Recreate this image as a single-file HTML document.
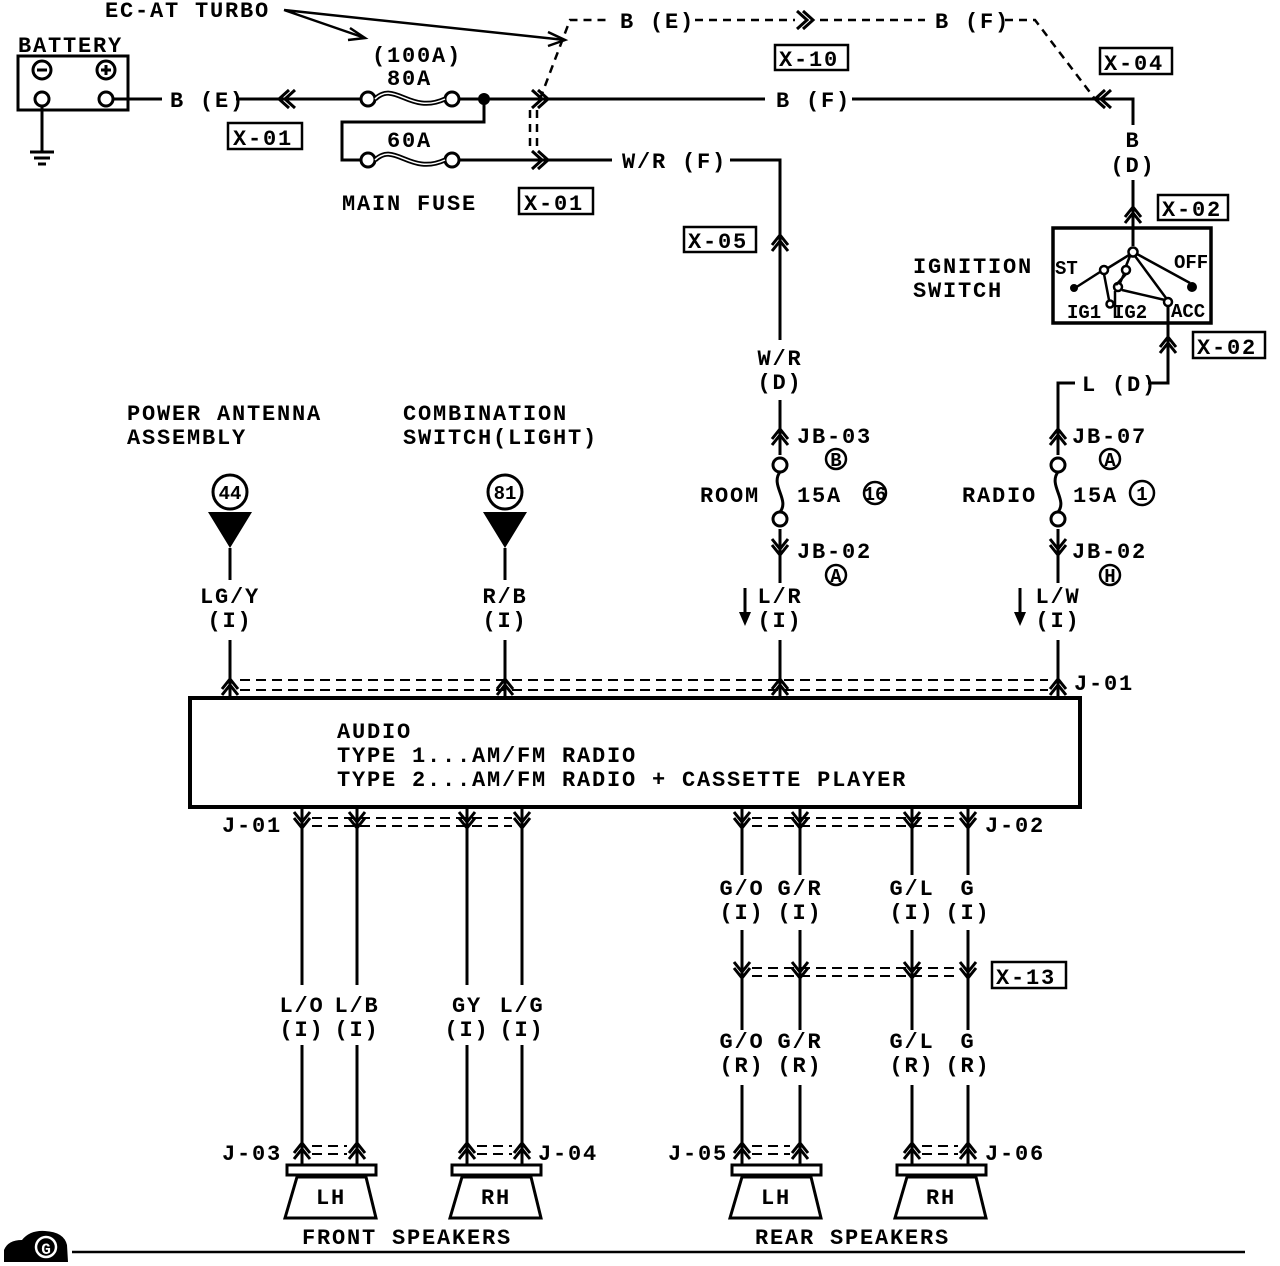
<!DOCTYPE html>
<html><head><meta charset="utf-8"><style>
html,body{margin:0;padding:0;background:#fff}
svg{display:block}
text{font-family:"Liberation Mono",monospace;font-weight:bold;font-size:22px;letter-spacing:1.8px;fill:#000}
.s{font-size:19px;letter-spacing:0}
</style></head><body>
<svg width="1280" height="1266" viewBox="0 0 1280 1266" xmlns="http://www.w3.org/2000/svg">
<defs>
<g id="cu"><path d="M-8,7 L0,-3 L8,7 M-8,13 L0,3 L8,13" fill="none" stroke="#000" stroke-width="3"/></g>
<g id="cd"><path d="M-8,-7 L0,3 L8,-7 M-8,-13 L0,-3 L8,-13" fill="none" stroke="#000" stroke-width="3"/></g>
<g id="cl"><path d="M7,-9 L-3,0 L7,9 M13,-9 L3,0 L13,9" fill="none" stroke="#000" stroke-width="3"/></g>
<g id="cr"><path d="M-7,-9 L3,0 L-7,9 M-13,-9 L-3,0 L-13,9" fill="none" stroke="#000" stroke-width="3"/></g>
</defs>
<g fill="none" stroke="#000" stroke-width="3">
<rect x="18" y="56" width="110" height="54"/>
<circle cx="42" cy="99" r="7"/><circle cx="106" cy="99" r="7"/>
<circle cx="42" cy="70" r="9"/><circle cx="106" cy="70" r="9"/>
<path d="M37,70 H47 M101,70 H111 M106,65 V75"/>
<path d="M42,106 V152 M30,152 H54 M34,158 H50 M38,164 H46"/>
<path d="M113,99 H162 M236,99 H361"/>
<circle cx="368" cy="99" r="7"/><circle cx="452" cy="99" r="7"/>
<path d="M375,99 C395,80 410,115 445,99" stroke-width="5"/>
<path d="M375,99 C395,80 410,115 445,99" stroke="#fff" stroke-width="1.5"/>
<path d="M459,99 H765 M852,99 H1133 V125"/>
<path d="M484,99 V122 H342 V160 H361"/>
<circle cx="368" cy="160" r="7"/><circle cx="452" cy="160" r="7"/>
<path d="M375,160 C395,141 410,176 445,160" stroke-width="5"/>
<path d="M375,160 C395,141 410,176 445,160" stroke="#fff" stroke-width="1.5"/>
<path d="M459,160 H612 M730,160 H780 V340 M780,400 V455 M780,529 V583 M780,640 V698"/>
<path d="M284,10 L365,38 M284,10 L565,40" stroke-width="2.5"/>
<path d="M350,28 L365,38 L348,40 M548,32 L565,40 L548,46" stroke-width="2.5"/>
<g stroke-dasharray="8,6" stroke-width="2.5">
<path d="M540,99 L570,20 H610 M695,20 H795 M820,20 H925 M1005,20 H1035 L1095,99"/>
<path d="M530,110 V150 M537,110 V150"/>
</g>
<rect x="228" y="123" width="74" height="26" stroke-width="2.5"/>
<rect x="519" y="188" width="74" height="26" stroke-width="2.5"/>
<rect x="775" y="45" width="73" height="25" stroke-width="2.5"/>
<rect x="1100" y="48" width="72" height="26" stroke-width="2.5"/>
<rect x="684" y="227" width="72" height="25" stroke-width="2.5"/>
<rect x="1158" y="195" width="70" height="25" stroke-width="2.5"/>
<rect x="1193" y="332" width="72" height="26" stroke-width="2.5"/>
<rect x="992" y="962" width="74" height="26" stroke-width="2.5"/>
<path d="M1133,180 V246"/>
<rect x="1053" y="228" width="158" height="95" stroke-width="3.5"/>
<g stroke-width="2.5">
<circle cx="1133" cy="252" r="4.5"/><circle cx="1104" cy="270" r="4"/><circle cx="1126" cy="270" r="4"/><circle cx="1118" cy="287" r="4"/><circle cx="1110" cy="304" r="3.5"/><circle cx="1168" cy="302" r="4"/>
<path d="M1129,255 L1108,268 M1100,272 L1075,288 M1137,254 L1190,283 M1135,256 L1166,298 M1130,256 L1126,266 M1124,274 L1120,283 M1122,290 L1165,300 M1104,274 L1109,300 M1115,291 L1115,318 M1126,274 L1116,285"/>
</g>
<path d="M1168,306 V383 H1148 M1075,383 H1058 V455 M1058,529 V583 M1058,640 V698"/>
<circle cx="780" cy="465" r="7"/><circle cx="780" cy="519" r="7"/>
<path d="M780,472 C770,485 790,500 780,512"/>
<circle cx="1058" cy="465" r="7"/><circle cx="1058" cy="519" r="7"/>
<path d="M1058,472 C1048,485 1068,500 1058,512"/>
<circle cx="836" cy="459" r="10" stroke-width="2.5"/><circle cx="836" cy="575" r="10" stroke-width="2.5"/>
<circle cx="875" cy="493" r="11" stroke-width="2.5"/><circle cx="1110" cy="459" r="10" stroke-width="2.5"/>
<circle cx="1142" cy="493" r="12" stroke-width="2.5"/><circle cx="1110" cy="575" r="10" stroke-width="2.5"/>
<path d="M745,588 V614 M1020,588 V614"/>
<circle cx="230" cy="492" r="17"/><circle cx="505" cy="492" r="17"/>
<path d="M230,548 V580 M230,640 V698 M505,548 V580 M505,640 V698"/>
<path d="M240,680 H1048 M240,690 H1048" stroke-dasharray="10,6" stroke-width="2"/>
<rect x="190" y="698" width="890" height="109" stroke-width="4"/>
<path d="M302,807 V985 M357,807 V985 M467,807 V985 M522,807 V985 M302,1045 V1165 M357,1045 V1165 M467,1045 V1165 M522,1045 V1165"/>
<path d="M742,807 V875 M800,807 V875 M912,807 V875 M968,807 V875 M742,930 V1030 M800,930 V1030 M912,930 V1030 M968,930 V1030 M742,1085 V1165 M800,1085 V1165 M912,1085 V1165 M968,1085 V1165"/>
<g stroke-dasharray="10,6" stroke-width="2">
<path d="M312,818 H512 M312,826 H512 M752,818 H958 M752,826 H958 M752,968 H958 M752,976 H958"/>
<path d="M312,1146 H347 M312,1154 H347 M477,1146 H512 M477,1154 H512 M752,1146 H790 M752,1154 H790 M922,1146 H958 M922,1154 H958"/>
</g>
<rect x="287" y="1165" width="89" height="10"/>
<path d="M297,1177 H366 L376,1218 H285 Z"/>
<rect x="452" y="1165" width="89" height="10"/>
<path d="M462,1177 H531 L541,1218 H450 Z"/>
<rect x="732" y="1165" width="89" height="10"/>
<path d="M742,1177 H811 L821,1218 H730 Z"/>
<rect x="897" y="1165" width="89" height="10"/>
<path d="M907,1177 H976 L986,1218 H895 Z"/>
<path d="M72,1252 H1245" stroke-width="2.5"/>
</g>
<circle cx="484" cy="99" r="6"/>
<path d="M208,512 H252 L230,548 Z M483,512 H527 L505,548 Z"/>
<path d="M739,612 L751,612 L745,626 Z M1014,612 L1026,612 L1020,626 Z"/>
<path d="M1192,287 m-5,0 a5,5 0 1,0 10,0 a5,5 0 1,0 -10,0 M1074,288 m-4,0 a4,4 0 1,0 8,0 a4,4 0 1,0 -8,0"/>
<path d="M4,1250 Q8,1240 22,1240 Q30,1230 45,1231 Q64,1232 67,1245 L68,1262 H4 Z"/>
<circle cx="46" cy="1247" r="10" fill="none" stroke="#fff" stroke-width="2.5"/>
<use href="#cl" x="282" y="99"/><use href="#cr" x="545" y="99"/><use href="#cr" x="545" y="160"/>
<use href="#cr" x="810" y="20"/><use href="#cl" x="1098" y="99"/>
<use href="#cu" x="1133" y="210"/><use href="#cu" x="1168" y="340"/><use href="#cu" x="780" y="238"/>
<use href="#cu" x="780" y="432"/><use href="#cd" x="780" y="552"/>
<use href="#cu" x="1058" y="432"/><use href="#cd" x="1058" y="552"/>
<use href="#cu" x="230" y="682"/><use href="#cu" x="505" y="682"/><use href="#cu" x="780" y="682"/><use href="#cu" x="1058" y="682"/>
<use href="#cd" x="302" y="825"/><use href="#cd" x="357" y="825"/><use href="#cd" x="467" y="825"/><use href="#cd" x="522" y="825"/>
<use href="#cd" x="742" y="825"/><use href="#cd" x="800" y="825"/><use href="#cd" x="912" y="825"/><use href="#cd" x="968" y="825"/>
<use href="#cd" x="742" y="975"/><use href="#cd" x="800" y="975"/><use href="#cd" x="912" y="975"/><use href="#cd" x="968" y="975"/>
<use href="#cu" x="302" y="1146"/><use href="#cu" x="357" y="1146"/><use href="#cu" x="467" y="1146"/><use href="#cu" x="522" y="1146"/>
<use href="#cu" x="742" y="1146"/><use href="#cu" x="800" y="1146"/><use href="#cu" x="912" y="1146"/><use href="#cu" x="968" y="1146"/>
<text x="105" y="17">EC-AT TURBO</text>
<text x="18" y="52">BATTERY</text>
<text x="170" y="107">B (E)</text>
<text x="372" y="62">(100A)</text>
<text x="387" y="85">80A</text>
<text x="387" y="147">60A</text>
<text x="342" y="210">MAIN FUSE</text>
<text x="233" y="145">X-01</text>
<text x="524" y="210">X-01</text>
<text x="620" y="28">B (E)</text>
<text x="935" y="28">B (F)</text>
<text x="779" y="66">X-10</text>
<text x="1104" y="70">X-04</text>
<text x="776" y="107">B (F)</text>
<text x="622" y="168">W/R (F)</text>
<text x="688" y="248">X-05</text>
<text x="1162" y="216">X-02</text>
<text x="1197" y="354">X-02</text>
<text x="1133" y="147" text-anchor="middle">B</text>
<text x="1133" y="172" text-anchor="middle">(D)</text>
<text x="913" y="273">IGNITION</text>
<text x="913" y="297">SWITCH</text>
<text class="s" x="1055" y="274">ST</text>
<text class="s" x="1174" y="268">OFF</text>
<text class="s" x="1067" y="318">IG1</text>
<text class="s" x="1113" y="318">IG2</text>
<text class="s" x="1171" y="317">ACC</text>
<text x="1082" y="391">L (D)</text>
<text x="780" y="365" text-anchor="middle">W/R</text>
<text x="780" y="389" text-anchor="middle">(D)</text>
<text x="127" y="420">POWER ANTENNA</text>
<text x="127" y="444">ASSEMBLY</text>
<text x="403" y="420">COMBINATION</text>
<text x="403" y="444">SWITCH(LIGHT)</text>
<text class="s" x="230" y="499" text-anchor="middle">44</text>
<text class="s" x="505" y="499" text-anchor="middle">81</text>
<text x="797" y="443">JB-03</text>
<text class="s" x="836" y="466" text-anchor="middle">B</text>
<text x="700" y="502">ROOM</text>
<text x="797" y="502">15A</text>
<text class="s" x="875" y="500" text-anchor="middle">16</text>
<text x="797" y="558">JB-02</text>
<text class="s" x="836" y="582" text-anchor="middle">A</text>
<text x="1072" y="443">JB-07</text>
<text class="s" x="1110" y="466" text-anchor="middle">A</text>
<text x="962" y="502">RADIO</text>
<text x="1073" y="502">15A</text>
<text class="s" x="1142" y="500" text-anchor="middle">1</text>
<text x="1072" y="558">JB-02</text>
<text class="s" x="1110" y="582" text-anchor="middle">H</text>
<text x="230" y="603" text-anchor="middle">LG/Y</text><text x="230" y="627" text-anchor="middle">(I)</text>
<text x="505" y="603" text-anchor="middle">R/B</text><text x="505" y="627" text-anchor="middle">(I)</text>
<text x="780" y="603" text-anchor="middle">L/R</text><text x="780" y="627" text-anchor="middle">(I)</text>
<text x="1058" y="603" text-anchor="middle">L/W</text><text x="1058" y="627" text-anchor="middle">(I)</text>
<text x="1074" y="690">J-01</text>
<text x="337" y="738">AUDIO</text>
<text x="337" y="762">TYPE 1...AM/FM RADIO</text>
<text x="337" y="786">TYPE 2...AM/FM RADIO + CASSETTE PLAYER</text>
<text x="222" y="832">J-01</text>
<text x="985" y="832">J-02</text>
<text x="302" y="1012" text-anchor="middle">L/O</text><text x="302" y="1036" text-anchor="middle">(I)</text>
<text x="357" y="1012" text-anchor="middle">L/B</text><text x="357" y="1036" text-anchor="middle">(I)</text>
<text x="467" y="1012" text-anchor="middle">GY</text><text x="467" y="1036" text-anchor="middle">(I)</text>
<text x="522" y="1012" text-anchor="middle">L/G</text><text x="522" y="1036" text-anchor="middle">(I)</text>
<text x="742" y="895" text-anchor="middle">G/O</text><text x="742" y="919" text-anchor="middle">(I)</text>
<text x="800" y="895" text-anchor="middle">G/R</text><text x="800" y="919" text-anchor="middle">(I)</text>
<text x="912" y="895" text-anchor="middle">G/L</text><text x="912" y="919" text-anchor="middle">(I)</text>
<text x="968" y="895" text-anchor="middle">G</text><text x="968" y="919" text-anchor="middle">(I)</text>
<text x="996" y="984">X-13</text>
<text x="742" y="1048" text-anchor="middle">G/O</text><text x="742" y="1072" text-anchor="middle">(R)</text>
<text x="800" y="1048" text-anchor="middle">G/R</text><text x="800" y="1072" text-anchor="middle">(R)</text>
<text x="912" y="1048" text-anchor="middle">G/L</text><text x="912" y="1072" text-anchor="middle">(R)</text>
<text x="968" y="1048" text-anchor="middle">G</text><text x="968" y="1072" text-anchor="middle">(R)</text>
<text x="222" y="1160">J-03</text>
<text x="538" y="1160">J-04</text>
<text x="668" y="1160">J-05</text>
<text x="985" y="1160">J-06</text>
<text x="331" y="1204" text-anchor="middle">LH</text>
<text x="496" y="1204" text-anchor="middle">RH</text>
<text x="776" y="1204" text-anchor="middle">LH</text>
<text x="941" y="1204" text-anchor="middle">RH</text>
<text x="302" y="1244">FRONT SPEAKERS</text>
<text x="755" y="1244">REAR SPEAKERS</text>
<text x="46" y="1254" text-anchor="middle" style="fill:#fff;font-size:16px;letter-spacing:0">G</text>
</svg>
</body></html>
